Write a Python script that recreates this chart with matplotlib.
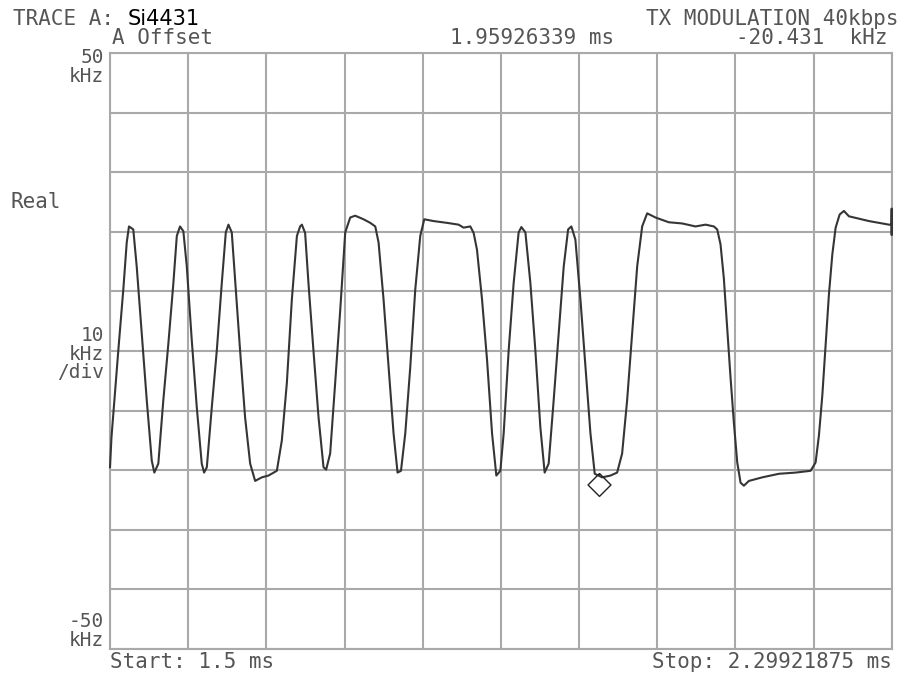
import numpy as np
import matplotlib
matplotlib.use("Agg")
import matplotlib.pyplot as plt

# sweep and display scale
start_ms = 1.5
stop_ms = 2.29921875
ref_khz = 50
div_khz = 10

# demodulated FSK trace (time in ms, deviation in kHz)
time_ms = [
    1.5000, 1.5015, 1.5034, 1.5085, 1.5136, 1.5171, 1.5194, 1.5238, 1.5273, 1.5324,
    1.5376, 1.5427, 1.5453, 1.5494, 1.5545, 1.5597, 1.5648, 1.5683, 1.5716, 1.5750,
    1.5785, 1.5836, 1.5887, 1.5938, 1.5962, 1.5990, 1.6041, 1.6092, 1.6143, 1.6184,
    1.6211, 1.6245, 1.6279, 1.6330, 1.6381, 1.6433, 1.6484, 1.6552, 1.6620, 1.6706,
    1.6757, 1.6808, 1.6859, 1.6911, 1.6944, 1.6962, 1.6995, 1.7029, 1.7080, 1.7132,
    1.7183, 1.7210, 1.7251, 1.7302, 1.7354, 1.7405, 1.7456, 1.7507, 1.7592, 1.7661,
    1.7712, 1.7746, 1.7797, 1.7848, 1.7899, 1.7940, 1.7975, 1.8019, 1.8070, 1.8121,
    1.8172, 1.8213, 1.8308, 1.8445, 1.8564, 1.8615, 1.8684, 1.8718, 1.8752, 1.8804,
    1.8855, 1.8906, 1.8950, 1.8991, 1.9025, 1.9076, 1.9127, 1.9178, 1.9206, 1.9247,
    1.9298, 1.9349, 1.9400, 1.9444, 1.9485, 1.9536, 1.9588, 1.9639, 1.9684, 1.9717,
    1.9758, 1.9810, 1.9861, 1.9912, 1.9956, 2.0032, 2.0117, 2.0185, 2.0236, 2.0287,
    2.0339, 2.0390, 2.0441, 2.0492, 2.0577, 2.0713, 2.0850, 2.0986, 2.1089, 2.1174,
    2.1208, 2.1242, 2.1276, 2.1311, 2.1345, 2.1378, 2.1413, 2.1447, 2.1481, 2.1532,
    2.1669, 2.1839, 2.2010, 2.2163, 2.2214, 2.2248, 2.2283, 2.2317, 2.2350, 2.2385,
    2.2419, 2.2460, 2.2504, 2.2555, 2.2657, 2.2760, 2.2862, 2.2964, 2.2990, 2.2992,
    2.2992, 2.2992,
]
freq_khz = [
    -19.5, -14.5, -10.5, 0.1, 10.3, 18.2, 20.9, 20.4, 14.2, 3.0,
    -8.3, -18.4, -20.4, -18.9, -8.3, 1.3, 11.4, 19.3, 20.9, 20.1,
    14.2, 1.8, -9.4, -18.9, -20.4, -19.5, -9.4, 0.1, 11.4, 19.9,
    21.2, 19.9, 12.0, 0.1, -11.1, -18.9, -21.8, -21.2, -20.9, -20.1,
    -15.0, -5.4, 8.6, 19.3, 20.9, 21.2, 19.8, 11.4, 0.1, -11.1,
    -19.5, -19.9, -17.2, -5.4, 6.9, 19.9, 22.4, 22.7, 22.1, 21.5,
    20.9, 18.2, 8.6, -2.7, -13.8, -20.4, -20.1, -13.8, -2.7, 10.3,
    19.3, 22.1, 21.8, 21.5, 21.2, 20.7, 20.9, 19.8, 17.0, 8.6,
    -1.5, -13.8, -20.9, -20.1, -13.8, 0.1, 11.4, 19.9, 20.8, 19.9,
    11.4, 0.1, -12.8, -20.4, -18.9, -8.3, 3.0, 14.2, 20.4, 20.9,
    18.7, 8.6, -2.7, -13.8, -20.6, -21.2, -20.9, -20.4, -17.2, -8.3,
    3.0, 14.2, 20.9, 23.1, 22.4, 21.6, 21.4, 20.9, 21.2, 20.9,
    20.4, 17.9, 12.2, 3.8, -4.6, -11.9, -18.7, -22.1, -22.6, -21.8,
    -21.2, -20.6, -20.4, -20.1, -18.7, -14.2, -7.4, 1.0, 9.4, 16.2,
    20.7, 22.9, 23.5, 22.6, 22.2, 21.8, 21.5, 21.2, 21.2, 23.9,
    19.5, 21.0,
]

# marker A
marker_ms = 1.9997
marker_khz = -20.431

W, H = 902, 677
fig = plt.figure(figsize=(W / 100, H / 100), dpi=100)
fig.patch.set_facecolor("white")

left, top, right, bottom = 110, 53, 891.7, 649
ax = fig.add_axes([left / W, 1 - bottom / H, (right - left) / W, (bottom - top) / H])

grid_c = "#a9a9a9"
ax.set_xlim(start_ms, stop_ms)
ax.set_ylim(-ref_khz, ref_khz)
ax.set_xticks(np.linspace(start_ms, stop_ms, 11))
ax.set_yticks(np.arange(-ref_khz, ref_khz + 1, div_khz))
ax.tick_params(length=0, labelbottom=False, labelleft=False)
ax.grid(True, color=grid_c, linewidth=1.5)
ax.set_axisbelow(True)
for s in ax.spines.values():
    s.set_color(grid_c)
    s.set_linewidth(1.5)

ax.plot(time_ms, freq_khz, color="#353535", linewidth=1.5, clip_on=False, zorder=3)

# hollow diamond hanging below the marker point
diamond = [(0, 0), (1, -1), (0, -2), (-1, -1), (0, 0)]
ax.plot([marker_ms], [marker_khz], marker=diamond, markersize=33,
        markerfacecolor="none", markeredgecolor="#222222", markeredgewidth=1.0,
        zorder=4, clip_on=False)

mono = dict(family="DejaVu Sans Mono", color="#555555", fontsize=15)


def label(x, y, s, ha="left", **kw):
    opts = dict(mono)
    opts.update(kw)
    fig.text(x / W, 1 - y / H, s, ha=ha, va="center", multialignment=ha, **opts)


label(13, 19, "TRACE A:")
fig.text(128 / W, 1 - 19 / H, "Si4431", ha="left", va="center",
         family="DejaVu Sans", fontsize=15, color="black")
label(898, 19, "TX MODULATION 40kbps", ha="right")
label(112, 38, "A Offset")
label(614, 38, "1.95926339 ms", ha="right")
label(888, 38, "-20.431  kHz", ha="right")

# scale annotations on the left edge
label(104, 67, "50\nkHz", ha="right", fontsize=14, linespacing=0.95)
label(11, 202, "Real")
label(104, 354, "10\nkHz\n/div", ha="right", fontsize=14, linespacing=0.95)
label(104, 631, "-50\nkHz", ha="right", fontsize=14, linespacing=0.95)

label(110, 662, "Start: 1.5 ms")
label(892, 662, "Stop: 2.29921875 ms", ha="right")

fig.savefig("out.png", dpi=100, facecolor="white")
